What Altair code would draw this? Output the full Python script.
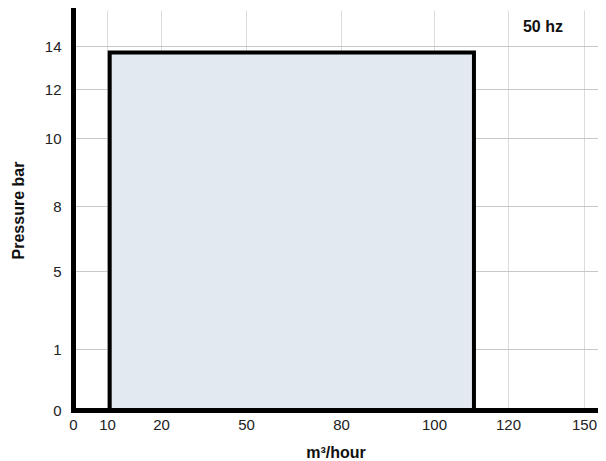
import altair as alt
import pandas as pd

# Axis ticks (non-uniform scale in the original)
x_ticks = [0, 10, 20, 50, 80, 100, 120, 150]
y_ticks = [0, 1, 5, 8, 10, 12, 14]
x_max = 155.5
y_max = 15.7

# Operating envelope (box)
box_x = [10.5, 110.8]
box_y = [0, 13.7]

# Annotation
note_text = "50 hz"
note_x = 133.8
note_y = 14.9

# Piecewise-linear scales that reproduce the uneven tick spacing
x_scale = alt.Scale(domain=x_ticks + [x_max],
                    range=[0, 34, 88, 173, 268, 361, 435, 511, 525],
                    nice=False, zero=False)
y_scale = alt.Scale(domain=y_ticks + [y_max],
                    range=[400, 339, 261, 196, 128, 79, 36, 0],
                    nice=False, zero=False)

box_df = pd.DataFrame({"x0": [box_x[0]], "x1": [box_x[1]],
                       "y0": [box_y[0]], "y1": [box_y[1]]})
note_df = pd.DataFrame({"nx": [note_x], "ny": [note_y], "t": [note_text]})

font = "Liberation Sans"

x_axis = alt.Axis(values=x_ticks, title="m³/hour", grid=True, gridColor="#dcdcdc",
                  gridWidth=1, domainWidth=5, domainColor="#000000", domainCap="square",
                  ticks=False, labelPadding=7, labelFontSize=15, labelColor="#222222",
                  labelFont=font, titleFont=font, titleFontSize=16, titleFontWeight="bold",
                  titleColor="#111111", titlePadding=12, labelFlush=False)
y_axis = alt.Axis(values=y_ticks, title="Pressure bar", grid=True, gridColor="#c8c8c8",
                  gridWidth=1, domainWidth=5, domainColor="#000000", domainCap="square",
                  ticks=False, labelPadding=12, labelFontSize=15, labelColor="#222222",
                  labelFont=font, titleFont=font, titleFontSize=16, titleFontWeight="bold",
                  titleColor="#111111", titlePadding=18, labelFlush=False)

box = alt.Chart(box_df).mark_rect(fill="#e2e9ef", stroke="#000000", strokeWidth=4).encode(
    x=alt.X("x0:Q", scale=x_scale, axis=x_axis, title="m³/hour"),
    x2="x1:Q",
    y=alt.Y("y0:Q", scale=y_scale, axis=y_axis, title="Pressure bar"),
    y2="y1:Q",
)

note = alt.Chart(note_df).mark_text(font=font, fontSize=16, fontWeight="bold",
                                    color="#111111", align="center", baseline="middle").encode(
    x=alt.X("nx:Q", scale=x_scale, title="m³/hour"),
    y=alt.Y("ny:Q", scale=y_scale, title="Pressure bar"),
    text="t:N",
)

chart = alt.layer(box, note).properties(
    width=525, height=400,
    autosize=alt.AutoSizeParams(type="none"),
    padding={"left": 65, "top": 2, "right": 0, "bottom": 53},
).configure_view(strokeWidth=0)

chart.save("out.html", embed_options={"renderer": "svg", "actions": False})
